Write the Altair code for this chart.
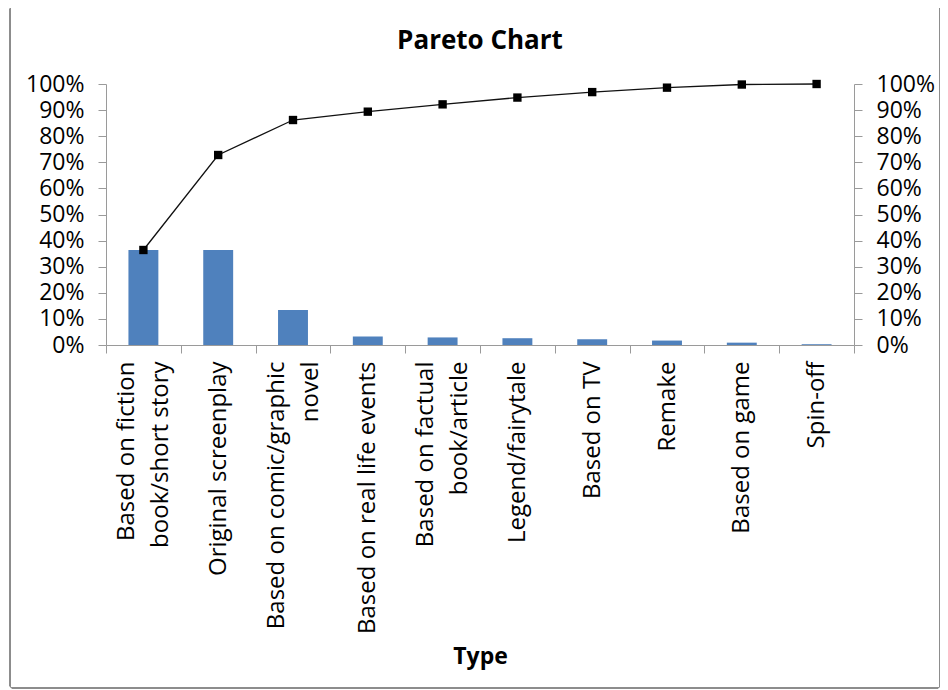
import altair as alt
import pandas as pd

types = [
    "Based on fiction\nbook/short story",
    "Original screenplay",
    "Based on comic/graphic\nnovel",
    "Based on real life events",
    "Based on factual\nbook/article",
    "Legend/fairytale",
    "Based on TV",
    "Remake",
    "Based on game",
    "Spin-off",
]
share_pct = [36.4, 36.4, 13.4, 3.3, 2.9, 2.6, 2.2, 1.7, 0.9, 0.3]
cumulative_pct = [36.4, 72.8, 86.2, 89.4, 92.2, 94.8, 96.9, 98.6, 99.8, 100.0]
y_ticks = [0.0, 0.1, 0.2, 0.3, 0.4, 0.5, 0.6, 0.7, 0.8, 0.9, 1.0]

df = pd.DataFrame({
    "type": types,
    "share": [v / 100 for v in share_pct],
    "cum": [v / 100 for v in cumulative_pct],
})

FONT = "Open Sans"
GRAY = "#9a9a9a"
LINE_H = 34

x_axis = alt.Axis(
    labelAngle=270, labelAlign="right", labelBaseline="middle",
    labelExpr="split(datum.label, '\\n')", labelLineHeight=LINE_H,
    labelFontSize=24, labelLimit=0,
    labelOffset={"condition": {"test": "indexof(datum.label, '\\n') >= 0", "value": -LINE_H / 2}, "value": 0},
    labelPadding=8, tickSize=8, tickBand="extent",
    domainColor=GRAY, tickColor=GRAY, titlePadding=100,
)
x_enc = alt.X(
    "type:N", sort=types, title="Type",
    scale=alt.Scale(paddingInner=0, paddingOuter=0),
    axis=x_axis,
)

bars = alt.Chart(df).mark_bar(color="#4F81BD", width=alt.RelativeBandSize(0.4)).encode(
    x=x_enc,
    y=alt.Y(
        "share:Q", title=None,
        scale=alt.Scale(domain=[0, 1], nice=False, zero=True),
        axis=alt.Axis(
            orient="left", values=y_ticks, format=".0%", tickSize=8,
            labelPadding=14, domainColor=GRAY, tickColor=GRAY, grid=False,
        ),
    ),
)

line = alt.Chart(df).mark_line(
    color="#111111", strokeWidth=1.3,
    point=alt.OverlayMarkDef(shape="square", size=70, filled=True, color="black", opacity=1),
).encode(
    x=x_enc,
    y=alt.Y(
        "cum:Q", title=None,
        scale=alt.Scale(domain=[0, 1], nice=False, zero=True),
        axis=alt.Axis(
            orient="right", values=y_ticks, format=".0%", tickSize=8,
            labelPadding=14, domainColor=GRAY, tickColor=GRAY, grid=False,
        ),
    ),
)

frame = alt.Chart(df).mark_rect(
    fill=None, stroke="#8c8c8c", strokeWidth=1, cornerRadius=3
).encode(
    x=alt.value(-96), x2=alt.value(834), y=alt.value(-77), y2=alt.value(604)
)

chart = (
    alt.layer(bars, line, frame)
    .resolve_scale(y="independent")
    .properties(
        width=748, height=261,
        padding={"left": 98, "top": 76, "right": 86, "bottom": 345},
        autosize=alt.AutoSizeParams(type="none"),
        title=alt.Title(
            "Pareto Chart", font=FONT, fontSize=26, fontWeight="bold",
            color="black", anchor="middle", offset=14, dy=61,
        ),
    )
    .configure_view(stroke=None)
    .configure_axis(
        labelFont=FONT, labelFontSize=23, labelColor="black",
        titleFont=FONT, titleFontSize=23, titleFontWeight="bold", titleColor="black",
    )
)

chart.save("out.html", embed_options={"renderer": "svg", "actions": False})
